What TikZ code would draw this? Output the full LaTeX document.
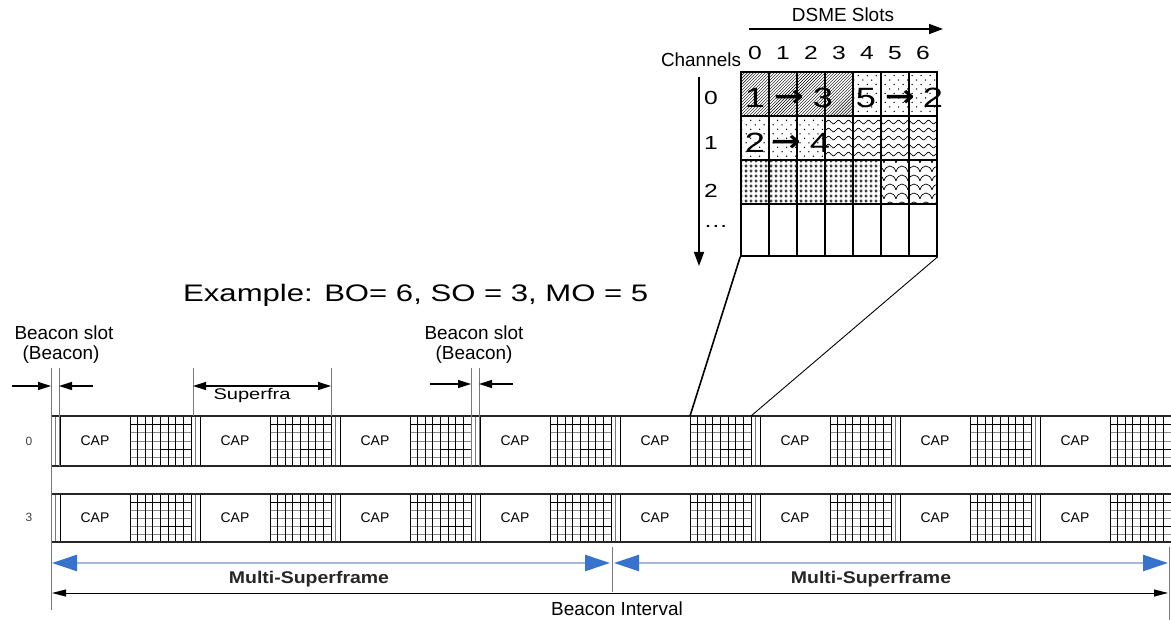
\documentclass[tikz,border=0pt]{standalone}
\usepackage{fontspec}
\setmainfont{Liberation Sans}
\newfontfamily\widefont{Liberation Sans}[FakeStretch=1.3]
\newfontfamily\midfont{Liberation Sans}[FakeStretch=1.15]
\newfontfamily\arrowfont{DejaVu Sans}[FakeStretch=1.2]
\usetikzlibrary{patterns,arrows.meta}

\pgfdeclarepatternformonly{sparsedots}{\pgfqpoint{-1pt}{-1pt}}{\pgfqpoint{10pt}{10pt}}{\pgfqpoint{9pt}{9pt}}{%
  \pgfpathcircle{\pgfqpoint{2pt}{2pt}}{0.75pt}%
  \pgfpathcircle{\pgfqpoint{6.5pt}{6.5pt}}{0.75pt}%
  \pgfusepath{fill}}
\pgfdeclarepatternformonly{wavy}{\pgfqpoint{0pt}{0pt}}{\pgfqpoint{10pt}{8pt}}{\pgfqpoint{10pt}{8pt}}{%
  \pgfsetlinewidth{0.7pt}%
  \pgfpathmoveto{\pgfqpoint{0pt}{4pt}}%
  \pgfpathcurveto{\pgfqpoint{2.5pt}{6.5pt}}{\pgfqpoint{2.5pt}{6.5pt}}{\pgfqpoint{5pt}{4pt}}%
  \pgfpathcurveto{\pgfqpoint{7.5pt}{1.5pt}}{\pgfqpoint{7.5pt}{1.5pt}}{\pgfqpoint{10pt}{4pt}}%
  \pgfusepath{stroke}}
\pgfdeclarepatternformonly{scales}{\pgfqpoint{0pt}{0pt}}{\pgfqpoint{12pt}{9pt}}{\pgfqpoint{12pt}{9pt}}{%
  \pgfsetlinewidth{0.7pt}%
  \pgfpathmoveto{\pgfqpoint{0pt}{0pt}}%
  \pgfpathcurveto{\pgfqpoint{2pt}{8pt}}{\pgfqpoint{10pt}{8pt}}{\pgfqpoint{12pt}{0pt}}%
  \pgfusepath{stroke}}
\pgfdeclarepatternformonly{rings}{\pgfqpoint{0pt}{0pt}}{\pgfqpoint{4.5pt}{4.5pt}}{\pgfqpoint{4.5pt}{4.5pt}}{%
  \pgfsetlinewidth{0.6pt}%
  \pgfpathcircle{\pgfqpoint{2.25pt}{2.25pt}}{1.3pt}%
  \pgfusepath{stroke}}

\definecolor{msblue}{RGB}{55,115,205}
\definecolor{msline}{RGB}{170,180,225}
\definecolor{guidegray}{RGB}{120,120,120}

\begin{document}
\begin{tikzpicture}[x=1bp,y=-1bp,
  lbl/.style={font=\fontsize{19}{19}\selectfont, inner sep=0},
  wlbl/.style={font=\widefont\fontsize{19}{19}\selectfont, inner sep=0},
  bignum/.style={font=\widefont\fontsize{28}{28}\selectfont, inner sep=0},
  bigarrow/.style={font=\arrowfont\bfseries\fontsize{30}{30}\selectfont, inner sep=0},
  capbox/.style={draw, line width=1bp, fill=white, inner sep=0, minimum width=70bp, font=\fontsize{14}{14}\selectfont},
  rowline/.style={line width=1.1bp, black!85},
  gridv/.style={line width=0.9bp, black},
  gridh/.style={line width=0.8bp, black!45},
  gridhb/.style={line width=1bp, black},
  beaconline/.style={line width=0.8bp, guidegray},
  guide/.style={line width=1bp, guidegray},
  tarrow/.style={line width=1.2bp, -{Triangle[length=13bp,width=8bp]}},
  tdarrow/.style={line width=1.2bp, {Triangle[length=13bp,width=8bp]}-{Triangle[length=13bp,width=8bp]}},
  bluearr/.style={line width=2.5bp, msline, {Triangle[length=25bp,width=16bp,color=msblue]}-{Triangle[length=25bp,width=16bp,color=msblue]}},
  cellline/.style={line width=1.5bp, black}
]
\useasboundingbox (0,0) rectangle (1171,620);

% ---------------- DSME slot grid ----------------
\fill[pattern=north east lines] (741,72) rectangle (853,116);
\fill[pattern=sparsedots] (853,72) rectangle (937,116);
\fill[pattern=sparsedots] (741,116) rectangle (825,160);
\fill[pattern=wavy] (825,116) rectangle (937,160);
\fill[pattern=rings] (741,160) rectangle (881,204);
\fill[pattern=scales] (881,160) rectangle (937,204);
\foreach \i in {1,...,6} \draw[cellline] (741+28*\i,72) -- (741+28*\i,256);
\foreach \yy in {116,160,204} \draw[cellline] (741,\yy) -- (937,\yy);
\node[draw, line width=1.5bp, minimum width=196bp, minimum height=184bp, inner sep=0] (dsme) at (839,164) {};

\node[lbl] (dsmeT) at (843,15) {DSME Slots};
\coordinate (slotA) at (749,29);
\coordinate (slotB) at (943,29);
\draw[line width=1.5bp, -{Triangle[length=14bp,width=10bp]}] (slotA) -- (slotB);
\foreach \i in {0,...,6} \node[wlbl] (col\i) at (755+28*\i,53) {\i};
\node[lbl, anchor=base] (chan) at (701,67) {Channels};
\coordinate (chA) at (699,77);
\coordinate (chB) at (699,266);
\draw[line width=1.5bp, -{Triangle[length=14bp,width=10bp]}] (chA) -- (chB);
\node[wlbl] (ch0) at (711,98) {0};
\node[wlbl] (ch1) at (711,143) {1};
\node[wlbl] (ch2) at (711,191) {2};
\node[wlbl] (ch3) at (716,226) {…};

\node[bignum] (n1) at (755,98) {1};
\node[bigarrow] (n2) at (789,98) {→};
\node[bignum] (n3) at (823,98) {3};
\node[bignum] (n4) at (866,98) {5};
\node[bigarrow] (n5) at (900,98) {→};
\node[bignum] (n6) at (933,98) {2};
\node[bignum] (m1) at (755,143) {2};
\node[bigarrow] (m2) at (786,143) {→};
\node[bignum] (m3) at (820,143) {4};

% ---------------- Example text ----------------
\node[font=\widefont\fontsize{24}{24}\selectfont, inner sep=0, anchor=base west] (ex) at (183,302) {Example: BO= 6, SO = 3, MO = 5};

% ---------------- Timeline rows ----------------
\foreach \r/\ya/\yb in {a/416/466,b/494/542}{
  \pgfmathsetmacro\h{\yb-\ya}
  \pgfmathsetmacro\cy{(\ya+\yb)/2}
  \foreach \k in {0,...,7}{
    \pgfmathsetmacro\s{51+140*\k}
    \foreach \j in {1,...,5} \draw[gridh] (\s+79,\ya+\j*\h/6) -- (\s+140,\ya+\j*\h/6);
    \draw[gridhb] (\s+79,\ya+\h/6) -- (\s+140,\ya+\h/6);
    \draw[gridhb] (\s+110,\ya+4*\h/6) -- (\s+140,\ya+4*\h/6);
    \foreach \i in {0,...,8} \draw[gridv] (\s+79+\i*7.625,\ya) -- (\s+79+\i*7.625,\yb);
    \draw[beaconline] (\s+4,\ya) -- (\s+4,\yb);
    \node[capbox, minimum height=\h bp] (cap\r\k) at (\s+44,\cy) {CAP};
    \coordinate (cfpNW\r\k) at (\s+79,\ya);
    \coordinate (cfpNE\r\k) at (\s+140,\ya);
  }
  \draw[rowline] (51,\ya) -- (1171,\ya);
  \draw[rowline] (51,\yb) -- (1171,\yb);
}
\node[font=\fontsize{12}{12}\selectfont, text=black!75] (r0) at (29,441) {0};
\node[font=\fontsize{12}{12}\selectfont, text=black!75] (r3) at (29,517) {3};

% zoom connectors
\draw[line width=1.6bp] (dsme.south west) -- (cfpNWa4);
\draw[line width=0.9bp] (dsme.south east) -- (cfpNEa4);

% ---------------- top annotations ----------------
\node[lbl] (bs1) at (64,333) {Beacon slot};
\node[lbl] (bs1b) at (61,355) {(Beacon)};
\draw[guide] (51,368) -- (51,610);
\draw[guide] (59,368) -- (59,466);
\coordinate (a1s) at (12,386); \coordinate (a1e) at (51,386);
\coordinate (a2s) at (93,386); \coordinate (a2e) at (59,386);
\draw[tarrow] (a1s) -- (a1e);
\draw[tarrow] (a2s) -- (a2e);

\draw[guide] (193,368) -- (193,416);
\draw[guide] (331,368) -- (331,416);
\coordinate (sfa) at (193,386); \coordinate (sfb) at (331,386);
\draw[tdarrow] (sfa) -- (sfb);
\node[font=\widefont\fontsize{15.5}{15.5}\selectfont, inner sep=0, anchor=base] (sf) at (252,399) {Superfra};

\node[lbl] (bs2) at (474,333) {Beacon slot};
\node[lbl] (bs2b) at (474,355) {(Beacon)};
\draw[guide] (471,368) -- (471,466);
\draw[guide] (479,368) -- (479,466);
\coordinate (b1s) at (430,384); \coordinate (b1e) at (471,384);
\coordinate (b2s) at (513,384); \coordinate (b2e) at (479,384);
\draw[tarrow] (b1s) -- (b1e);
\draw[tarrow] (b2s) -- (b2e);

% ---------------- bottom arrows ----------------
\draw[guide] (612,547) -- (612,592);
\draw[guide] (1169,547) -- (1169,620);
\coordinate (msL) at (52,563); \coordinate (msM1) at (610,563);
\coordinate (msM2) at (614,563); \coordinate (msR) at (1168,563);
\draw[bluearr] (msL) -- (msM1);
\draw[bluearr] (msM2) -- (msR);
\node[font=\midfont\bfseries\fontsize{17}{17}\selectfont, inner sep=0, anchor=base, text=black!85] (ms1) at (309,583) {Multi-Superframe};
\node[font=\midfont\bfseries\fontsize{17}{17}\selectfont, inner sep=0, anchor=base, text=black!85] (ms2) at (871,583) {Multi-Superframe};
\coordinate (biL) at (52,593); \coordinate (biR) at (1168,593);
\draw[line width=1bp, {Triangle[length=14bp,width=7bp]}-{Triangle[length=14bp,width=7bp]}] (biL) -- (biR);
\node[lbl, anchor=base] (bi) at (617,615) {Beacon Interval};
\end{tikzpicture}
\end{document}
